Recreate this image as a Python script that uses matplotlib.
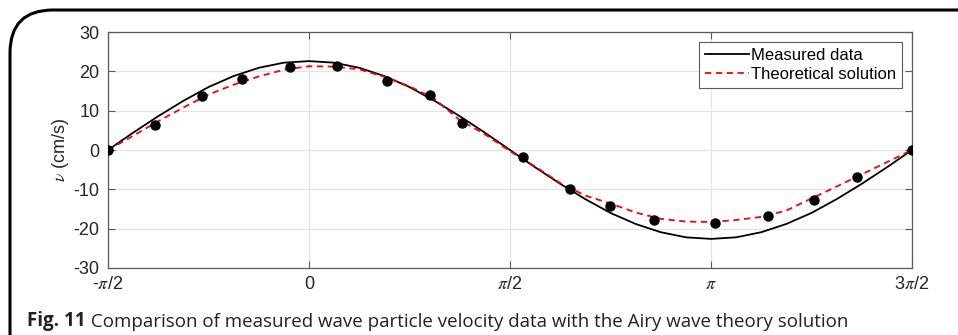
import numpy as np
import matplotlib.pyplot as plt
from matplotlib.patches import FancyBboxPatch

plt.rcParams['font.family'] = ['Liberation Sans', 'DejaVu Sans']
plt.rcParams['mathtext.fontset'] = 'stix'
plt.rcParams['axes.unicode_minus'] = False

# curves sampled every pi/16 from -pi/2 to 3pi/2
x_curve = np.linspace(-np.pi / 2, 3 * np.pi / 2, 33)
measured_line = [0, 4.4, 8.6, 12.5, 16.0, 18.8, 20.9, 22.2, 22.6, 22.2, 20.9,
                 18.8, 16.0, 12.5, 8.6, 4.4, 0, -4.4, -8.6, -12.5, -16.0, -18.8,
                 -20.9, -22.2, -22.6, -22.2, -20.9, -18.8, -16.0, -12.5, -8.6, -4.4, 0]
theory_line = [0, 3.6, 7.3, 10.8, 14.1, 16.6, 18.7, 20.4, 21.3, 21.2, 20.5,
               18.6, 16.2, 13.0, 7.6, 4.0, -0.3, -4.2, -8.4, -11.6, -13.6, -15.9,
               -17.5, -18.2, -18.3, -17.8, -17.0, -15.4, -12.3, -9.3, -6.2, -3.1, 0]

# measured points
x_pts = [-1.571, -1.202, -0.840, -0.521, -0.147, 0.222, 0.610, 0.947, 1.197,
         1.675, 2.036, 2.350, 2.699, 3.169, 3.584, 3.949, 4.286, 4.712]
y_pts = [0, 6.4, 13.7, 18.0, 21.0, 21.4, 17.5, 14.0, 6.9,
         -1.7, -9.8, -14.2, -17.8, -18.5, -16.8, -12.7, -6.8, 0]

xticks = [-np.pi / 2, 0, np.pi / 2, np.pi, 3 * np.pi / 2]
xticklabels = [r'-$\pi$/2', '0', r'$\pi$/2', r'$\pi$', r'3$\pi$/2']
yticks = [-30, -20, -10, 0, 10, 20, 30]

fig = plt.figure(figsize=(9.58, 3.35), dpi=100)

# rounded frame around figure + caption
frame = FancyBboxPatch((10 / 958, -0.2), 1.2, 0.2 + 325 / 335,
                       boxstyle='round,pad=0,rounding_size=0.045',
                       transform=fig.transFigure, fill=False,
                       edgecolor='black', linewidth=2.2, mutation_aspect=958 / 335)
fig.patches.append(frame)

ax = fig.add_axes([108 / 958, 67 / 335, 804 / 958, 236 / 335])
ax.plot(x_curve, measured_line, color='black', lw=1.3, label='Measured data')
ax.plot(x_curve, theory_line, color='red', lw=1.3, ls=(0, (3.5, 2.5)),
        label='Theoretical solution')
ax.plot(x_pts, y_pts, 'o', color='black', ms=6.5, zorder=5)

ax.set_xlim(-np.pi / 2, 3 * np.pi / 2)
ax.set_ylim(-30, 30)
ax.set_xticks(xticks)
ax.set_xticklabels(xticklabels)
ax.set_yticks(yticks)
ax.grid(True, color='#e3e3e3', lw=0.9)
ax.set_axisbelow(True)
for s in ax.spines.values():
    s.set_color('#5a5a5a')
    s.set_linewidth(0.9)
ax.tick_params(direction='in', length=5, width=0.8, color='#5a5a5a',
               top=True, right=True, labelsize=13, labelcolor='#262626', pad=6)
ax.set_ylabel(r'$\nu$ (cm/s)', fontsize=13, color='#262626', labelpad=2)

leg = ax.legend(loc='upper right', fontsize=12, handlelength=2.6,
                handletextpad=0.15, borderaxespad=0.6, fancybox=False,
                framealpha=1, borderpad=0.35, labelspacing=0.25)
leg.get_frame().set_edgecolor('#5a5a5a')
leg.get_frame().set_linewidth(0.8)

t1 = fig.text(27 / 958, 9 / 335, 'Fig. 11', fontsize=13.5, fontweight='bold',
              family='Open Sans', color='#222222')
ax.annotate(' Comparison of measured wave particle velocity data with the Airy wave theory solution',
            xy=(1, 0), xycoords=t1, va='bottom', fontsize=13.5,
            family='Open Sans', color='#222222', annotation_clip=False)

plt.savefig('out.png', dpi=100)
plt.close()
